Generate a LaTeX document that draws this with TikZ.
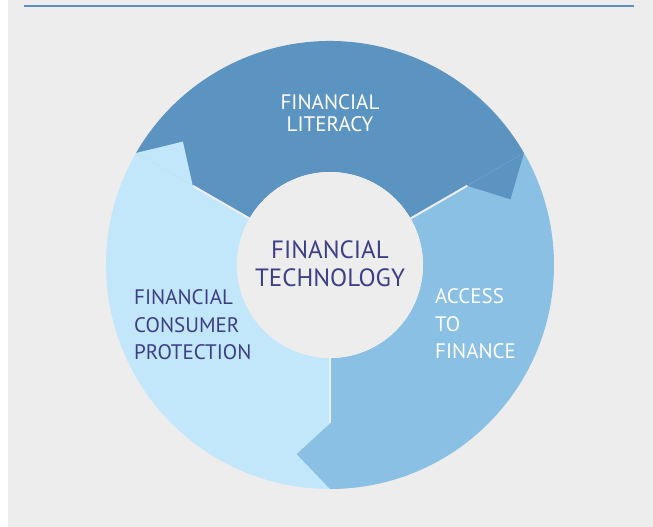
\documentclass[tikz,border=0pt]{standalone}
\usepackage{fontspec}
\setmainfont{PT Sans}
\definecolor{bggrey}{HTML}{EDEDED}
\definecolor{topline}{HTML}{5B8FC2}
\definecolor{segdark}{HTML}{5B94C0}
\definecolor{segmid}{HTML}{8AC0E4}
\definecolor{seglight}{HTML}{C2E6FA}
\definecolor{navy}{HTML}{3D3F85}
\tikzset{
  seglabel/.style={inner sep=0pt, font=\fontsize{21}{27.5}\selectfont},
  centerlabel/.style={inner sep=0pt, align=center, text=navy, font=\fontsize{25}{27.5}\selectfont},
  gapline/.style={draw=bggrey, line width=2pt}
}
\newcommand{\ringsector}[3]{%
  \fill[#1] (#2:224) arc[start angle=#2, end angle=#3, radius=224] -- (#3:93) arc[start angle=#3, end angle=#2, radius=93] -- cycle;}
\newcommand{\ringtip}[2]{%
  \fill[#1] (#2:224) -- (#2-10:192) -- (#2:158.5) -- cycle;}
\begin{document}
\begin{tikzpicture}[x=1pt,y=1pt]
\useasboundingbox (0,0) rectangle (653,527);
\fill[white] (0,0) rectangle (653,527);
\fill[bggrey] (8,0) rectangle (653,527);
\draw[topline, line width=2.5pt] (24,521) coordinate (tl) -- (634,521) coordinate (tr);
\begin{scope}[shift={(330,262)}]
  \ringsector{segdark}{30}{150}
  \ringsector{seglight}{150}{270}
  \ringsector{segmid}{-90}{30}
  \ringtip{segdark}{30}
  \ringtip{seglight}{150}
  \ringtip{segmid}{-90}
  \draw[gapline] (30:92) -- (30:158.5);
  \draw[gapline] (150:92) -- (150:158.5);
  \draw[gapline] (270:92) -- (270:158.5);
  \fill[bggrey] (0,0) circle[radius=93];
  \node[centerlabel] (fintech) at (0,1) {FINANCIAL\\TECHNOLOGY};
\end{scope}
\node[seglabel, align=center, text=white, font=\fontsize{21}{22}\selectfont] (literacy) at (330,414) {FINANCIAL\\LITERACY};
\node[seglabel, align=left, text=navy, anchor=west] (protection) at (134,202) {FINANCIAL\\CONSUMER\\PROTECTION};
\node[seglabel, align=left, text=white, anchor=west] (access) at (435,203) {ACCESS\\TO\\FINANCE};
\end{tikzpicture}
\end{document}
